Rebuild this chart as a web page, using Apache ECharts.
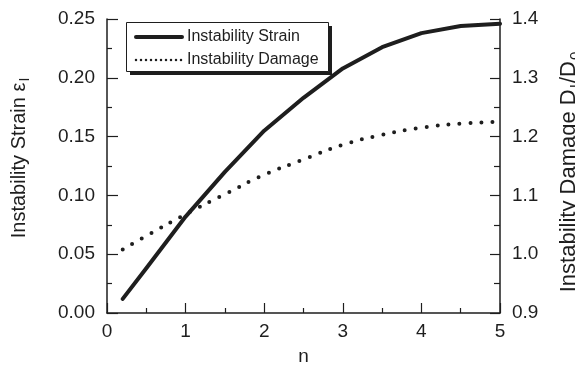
<!DOCTYPE html>
<html>
<head>
<meta charset="utf-8">
<script src="https://cdn.jsdelivr.net/npm/echarts@6/dist/echarts.min.js"></script>
<style>
html,body{margin:0;padding:0;background:#fff;}
#c{width:575px;height:370px;}
</style>
</head>
<body>
<div id="c"></div>
<script>
const nValues = [0.2, 0.5, 1.0, 1.5, 2.0, 2.5, 3.0, 3.5, 4.0, 4.5, 5.0];
const strainValues = [0.012, 0.038, 0.082, 0.120, 0.155, 0.183, 0.208, 0.226, 0.238, 0.244, 0.246];
const damageValues = [1.008, 1.031, 1.068, 1.102, 1.135, 1.161, 1.186, 1.203, 1.215, 1.222, 1.225];
const seriesNames = ['Instability Strain', 'Instability Damage'];

const FONT = 'Liberation Sans, Arial, sans-serif';
const INK = '#1e1e1e';

const strainData = nValues.map((n, i) => [n, strainValues[i]]);
const damageData = nValues.map((n, i) => [n, damageValues[i]]);

// legend frame geometry (decoration only)
const LEG = {x: 126, y: 22, w: 202, h: 49, shadow: 4};

const chart = echarts.init(document.getElementById('c'), null, {renderer: 'canvas'});
chart.setOption({
  animation: false,
  backgroundColor: '#fff',
  grid: {left: 107, right: 75, top: 19, bottom: 57, containLabel: false, outerBoundsMode: 'none'},
  graphic: [
    {type: 'rect', left: LEG.x + LEG.shadow, top: LEG.y + LEG.shadow, z: 3, z2: 0, silent: true,
     shape: {width: LEG.w, height: LEG.h}, style: {fill: INK}},
    {type: 'rect', left: LEG.x, top: LEG.y, z: 3, z2: 1, silent: true,
     shape: {width: LEG.w, height: LEG.h}, style: {fill: '#fff', stroke: INK, lineWidth: 1}}
  ],
  legend: {
    orient: 'vertical',
    left: LEG.x,
    top: LEG.y,
    z: 5,
    padding: [7, 10, 7, 8],
    itemWidth: 46,
    itemHeight: 14,
    itemGap: 7,
    backgroundColor: 'transparent',
    borderWidth: 0,
    itemStyle: {opacity: 0},
    textStyle: {fontFamily: FONT, fontSize: 16, color: INK},
    data: [
      {name: seriesNames[0], lineStyle: {width: 4, color: INK}},
      {name: seriesNames[1], lineStyle: {type: [0, 5], width: 2.5, cap: 'round', color: INK}}
    ]
  },
  xAxis: {
    type: 'value',
    min: 0, max: 5, interval: 1,
    name: 'n',
    nameLocation: 'middle',
    nameGap: 34,
    nameTextStyle: {fontFamily: FONT, fontSize: 19, color: INK},
    axisLine: {show: true, lineStyle: {color: INK, width: 1.5}},
    axisTick: {show: true, inside: true, length: 10, lineStyle: {color: INK, width: 1.2}},
    minorTick: {show: true, splitNumber: 2, length: 5, lineStyle: {color: INK, width: 1.2}},
    axisLabel: {fontFamily: FONT, fontSize: 19, color: INK, margin: 9},
    splitLine: {show: false}
  },
  yAxis: [
    {
      type: 'value',
      position: 'left',
      min: 0, max: 0.25, interval: 0.05,
      name: 'Instability Strain ε{sub|I}',
      nameLocation: 'middle',
      nameRotate: 90,
      nameGap: 75,
      nameTextStyle: {
        fontFamily: FONT, fontSize: 20, color: INK, padding: [0, 0, 0, 16],
        rich: {sub: {fontFamily: FONT, fontSize: 14, color: INK, verticalAlign: 'bottom', padding: [12, 0, 0, 1]}}
      },
      axisLine: {show: true, lineStyle: {color: INK, width: 1.5}},
      axisTick: {show: true, inside: true, length: 11, lineStyle: {color: INK, width: 1.2}},
      minorTick: {show: true, splitNumber: 2, length: 5, lineStyle: {color: INK, width: 1.2}},
      axisLabel: {fontFamily: FONT, fontSize: 19, color: INK, margin: 12, formatter: v => v.toFixed(2)},
      splitLine: {show: false}
    },
    {
      type: 'value',
      position: 'right',
      min: 0.9, max: 1.4, interval: 0.1,
      name: 'Instability Damage D{sub|I}/D{sub|0}',
      nameLocation: 'middle',
      nameRotate: 90,
      nameGap: 55,
      nameTextStyle: {
        fontFamily: FONT, fontSize: 22, color: INK, padding: [0, 11, 0, 0],
        rich: {sub: {fontFamily: FONT, fontSize: 15, color: INK, verticalAlign: 'bottom', padding: [13, 1, 0, 1]}}
      },
      axisLine: {show: true, lineStyle: {color: INK, width: 1.5}},
      axisTick: {show: true, inside: true, length: 10, lineStyle: {color: INK, width: 1.2}},
      minorTick: {show: true, splitNumber: 2, length: 6, lineStyle: {color: INK, width: 1.2}},
      axisLabel: {fontFamily: FONT, fontSize: 19, color: INK, margin: 12, formatter: v => v.toFixed(1)},
      splitLine: {show: false}
    }
  ],
  series: [
    {
      name: seriesNames[0],
      type: 'line',
      data: strainData,
      yAxisIndex: 0,
      symbol: 'none',
      showSymbol: false,
      smooth: false,
      lineStyle: {color: INK, width: 4, cap: 'round', join: 'round'},
      itemStyle: {color: INK}
    },
    {
      name: seriesNames[1],
      type: 'line',
      data: damageData,
      yAxisIndex: 1,
      symbol: 'none',
      showSymbol: false,
      smooth: true,
      lineStyle: {color: INK, width: 4, type: [0, 11], cap: 'round'},
      itemStyle: {color: INK}
    }
  ]
});
</script>
</body>
</html>
